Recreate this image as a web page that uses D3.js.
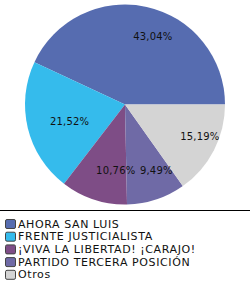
<!DOCTYPE html>
<html>
<head>
<meta charset="utf-8">
<script src="https://cdn.jsdelivr.net/npm/d3@7"></script>
<style>
  html, body { margin: 0; padding: 0; background: #fff; }
  svg { display: block; font-family: "DejaVu Sans", Verdana, sans-serif; }
  .slice-label { font-size: 10px; fill: #111; letter-spacing: 0.2px; }
  .legend-label { font-size: 11px; fill: #111; letter-spacing: 0.6px; }
</style>
</head>
<body>
<svg id="chart" width="250" height="285"></svg>
<script>
const parties = [
  'AHORA SAN LUIS',
  'FRENTE JUSTICIALISTA',
  '¡VIVA LA LIBERTAD! ¡CARAJO!',
  'PARTIDO TERCERA POSICIÓN',
  'Otros'
]
const shares = [43.04, 21.52, 10.76, 9.49, 15.19]
const colors = ['#566cb0', '#35bbec', '#7e4d86', '#6f6aa6', '#d4d4d4']

const conf = {
  cx: 125,
  cy: 104.5,
  radius: 100,
  // radius where the percentage text starts
  labelRadius: 70,
  legendTop: 210,
  legendRow: 12.7
}

const locale = d3.formatLocale({ decimal: ',', thousands: '.', grouping: [3], currency: ['', ''] })
const pct = v => locale.format('.2f')(v) + '%'

const svg = d3.select('#chart')

const data = parties.map((name, i) => ({ name, value: shares[i], color: colors[i] }))

// slices run counter-clockwise starting at 3 o'clock
const pie = d3.pie()
  .sort(null)
  .value(d => d.value)
  .startAngle(Math.PI / 2)
  .endAngle(Math.PI / 2 - 2 * Math.PI)

const arc = d3.arc().innerRadius(0).outerRadius(conf.radius)
const labelArc = d3.arc().innerRadius(conf.labelRadius).outerRadius(conf.labelRadius)

const g = svg.append('g').attr('transform', `translate(${conf.cx},${conf.cy})`)
const arcs = pie(data)

g.selectAll('path.slice')
  .data(arcs)
  .join('path')
  .attr('class', 'slice')
  .attr('d', arc)
  .attr('fill', d => d.data.color)

g.selectAll('text.slice-label')
  .data(arcs)
  .join('text')
  .attr('class', 'slice-label')
  .attr('transform', d => `translate(${labelArc.centroid(d)})`)
  .attr('dx', -7)
  .attr('dy', '0.35em')
  .text(d => pct(d.data.value))

// legend
svg.append('line')
  .attr('x1', 0)
  .attr('x2', 250)
  .attr('y1', conf.legendTop + 0.5)
  .attr('y2', conf.legendTop + 0.5)
  .attr('stroke', '#000')

const rowY = d3.scaleLinear().domain([0, 1]).range([conf.legendTop + 17.5, conf.legendTop + 17.5 + conf.legendRow])

const rows = svg.selectAll('g.legend-row')
  .data(data)
  .join('g')
  .attr('class', 'legend-row')
  .attr('transform', (d, i) => `translate(0,${rowY(i)})`)

rows.append('rect')
  .attr('x', 5.5)
  .attr('y', -8)
  .attr('width', 10)
  .attr('height', 9)
  .attr('rx', 1.5)
  .attr('fill', d => d.color)
  .attr('stroke', '#444')

rows.append('text')
  .attr('class', 'legend-label')
  .attr('x', 18)
  .attr('y', 0)
  .text(d => d.name)
</script>
</body>
</html>
